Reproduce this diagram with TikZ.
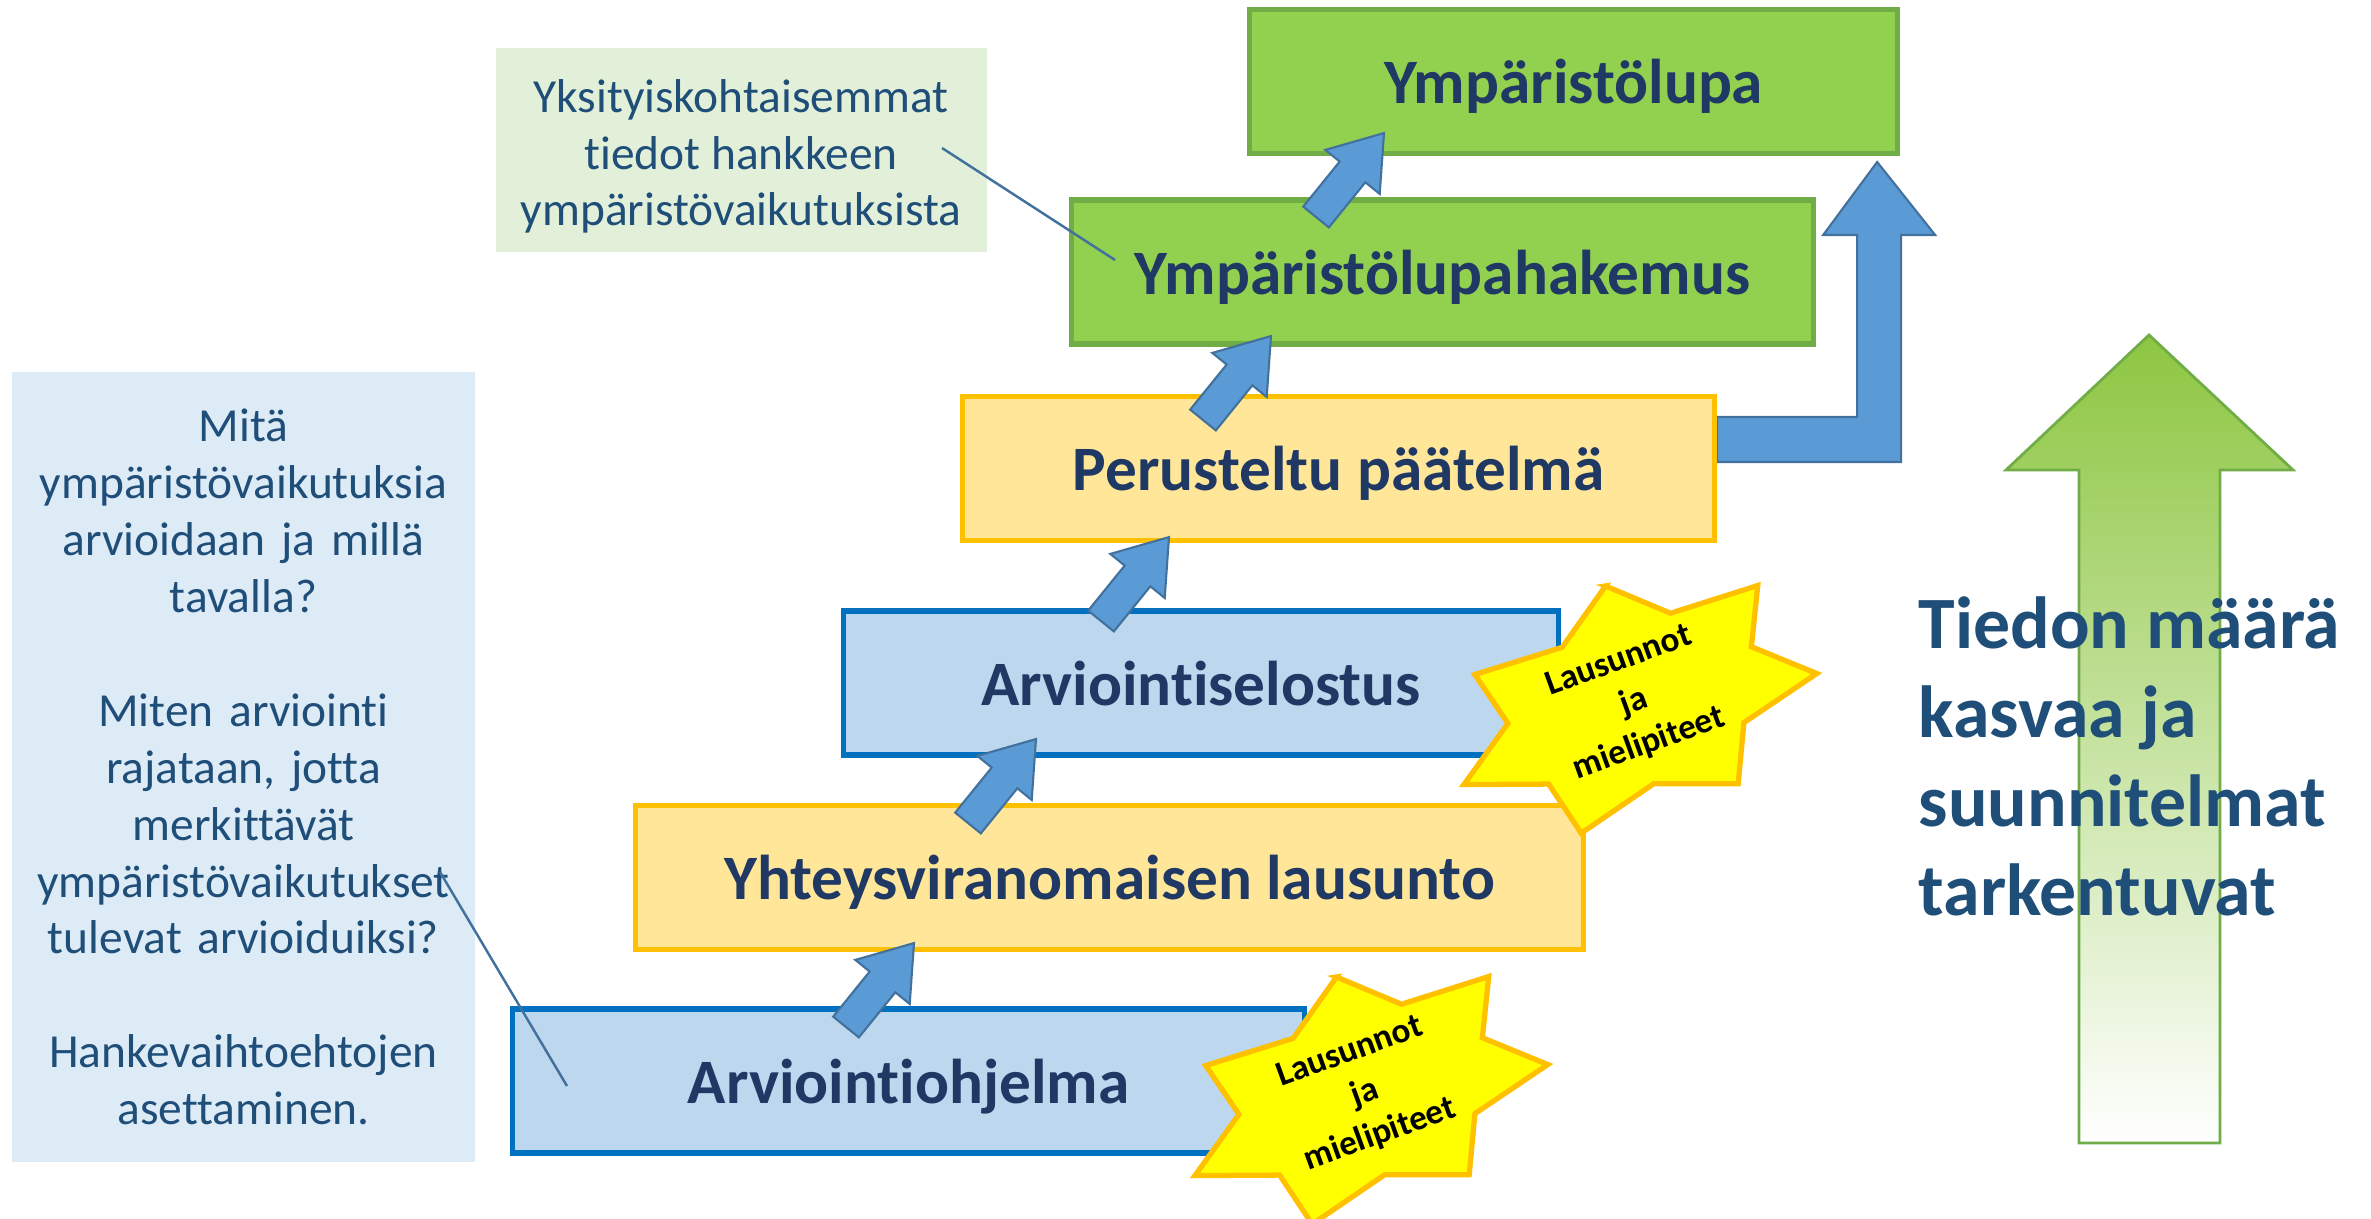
\documentclass[tikz,border=0pt]{standalone}
\usepackage{fontspec}
\setmainfont{Carlito}[Ligatures=NoCommon]
\usetikzlibrary{backgrounds}

\definecolor{navy}{HTML}{1F3864}
\definecolor{darkblue}{HTML}{1F4E79}
\definecolor{lupagreen}{HTML}{92D050}
\definecolor{lupagreenline}{HTML}{70AD47}
\definecolor{paperyellow}{HTML}{FFE699}
\definecolor{paperyellowline}{HTML}{FFC000}
\definecolor{reportblue}{HTML}{BDD7EE}
\definecolor{reportblueline}{HTML}{0070C0}
\definecolor{arrowblue}{HTML}{5B9BD5}
\definecolor{arrowblueline}{HTML}{41719C}
\definecolor{questionblue}{HTML}{DDEBF7}
\definecolor{notegreen}{HTML}{E2F0D9}
\definecolor{starfill}{HTML}{FFFF00}
\definecolor{bigarrowgreen}{HTML}{8DC641}

\tikzset{
    stepup/.pic={
        \draw[arrowbody] (0,-0.165) -- (0.58,-0.165) -- (0.58,-0.35) -- (1.08,0)
            -- (0.58,0.35) -- (0.58,0.165) -- (0,0.165) -- cycle;
    }
}

\begin{document}
\begin{tikzpicture}[
        phase/.style={draw, line width=1.5pt, minimum height=1.44cm, text=navy,
            text height=15pt, text depth=2.4pt,
            font=\fontsize{18}{22}\selectfont\bfseries},
        greenphase/.style={phase, fill=lupagreen, draw=lupagreenline},
        yellowphase/.style={phase, fill=paperyellow, draw=paperyellowline},
        bluephase/.style={phase, fill=reportblue, draw=reportblueline},
        infobox/.style={text=darkblue, align=center, font=\fontsize{13.5}{16.2}\selectfont},
        arrowbody/.style={fill=arrowblue, draw=arrowblueline, line width=0.6pt},
        callout/.style={draw=arrowblueline, line width=0.7pt},
        lausuntostar/.style={fill=starfill, draw=paperyellowline, line width=1.5pt},
        startext/.style={rotate=20, align=center, font=\fontsize{10}{12.5}\selectfont\bfseries}
    ]
    \useasboundingbox (0,0) rectangle (23.71,-12.18);

    % portaat
    \node[greenphase, minimum width=6.48cm]  (lupa)     at (15.735,-0.815) {Ympäristölupa};
    \node[greenphase, minimum width=7.42cm]  (hakemus)  at (14.425,-2.72)  {Ympäristölupahakemus};
    \node[yellowphase, minimum width=7.52cm] (paatelma) at (13.385,-4.685) {Perusteltu päätelmä};
    \node[bluephase, minimum width=7.15cm]   (selostus) at (12.01,-6.83)   {Arviointiselostus};
    \node[yellowphase, minimum width=9.48cm] (lausunto) at (11.095,-8.775) {Yhteysviranomaisen lausunto};
    \node[bluephase, minimum width=7.92cm]   (ohjelma)  at (9.085,-10.81)  {Arviointiohjelma};

    % paatelmasta suoraan lupaan
    \begin{scope}[on background layer]
        \draw[arrowbody] ([yshift=0.515cm]paatelma.east) -- ++(1.40,0) -- ++(0,1.82) -- ++(-0.34,0)
            -- ++(0.54,0.73) -- ++(0.58,-0.73) -- ++(-0.34,0) -- ++(0,-2.27) -- ++(-1.84,0) -- cycle;
    \end{scope}

    \foreach \x/\y in {8.46/-10.27, 9.68/-8.23, 11.01/-6.21, 12.03/-4.20, 13.16/-2.17}
        \pic[rotate=51] at (\x,\y) {stepup};

    % tekstilaatikot
    \node[infobox, fill=questionblue, minimum width=4.63cm, minimum height=7.9cm, text width=4.4cm]
        (kysymykset) at (2.435,-7.67)
        {Mitä\\ympäristövaikutuksia\\arvioidaan ja millä\\tavalla?\\[16.2pt]Miten arviointi\\rajataan, jotta\\merkittävät\\ympäristövaikutukset\\tulevat arvioiduiksi?\\[16.2pt]Hankevaihtoehtojen\\asettaminen.};
    \node[infobox, fill=notegreen, minimum width=4.91cm, minimum height=2.04cm]
        (tiedot) at (7.41,-1.5)
        {\rule{0pt}{13pt}Yksityiskohtaisemmat\\tiedot hankkeen\\ympäristövaikutuksista};

    \coordinate (k1) at (4.40,-8.72);
    \coordinate (k2) at (5.67,-10.86);
    \coordinate (t1) at (9.42,-1.48);
    \coordinate (t2) at (11.15,-2.60);
    \draw[callout] (k1) -- (k2);
    \draw[callout] (t1) -- (t2);

    % tiedon maara kasvaa
    \path[draw=lupagreenline, line width=0.8pt, top color=bigarrowgreen, bottom color=white]
        (20.79,-11.43) -- (20.79,-4.70) -- (20.06,-4.70) -- (21.49,-3.35) -- (22.93,-4.70)
        -- (22.20,-4.70) -- (22.20,-11.43) -- cycle;
    \node[anchor=north west, inner sep=0, align=left, text=darkblue,
        font=\fontsize{21}{25.3}\selectfont\bfseries] (maara) at (19.18,-5.96)
        {Tiedon määrä\\kasvaa ja\\suunnitelmat\\tarkentuvat};

    % lausunnot ja mielipiteet
    \coordinate (star1) at (16.34,-7.03);
    \coordinate (star2) at (13.65,-10.94);
    \foreach \s in {star1, star2} {
        \begin{scope}[shift={(\s)}, rotate=20, xscale=1.9, yscale=1.2]
            \draw[lausuntostar] (86:1) \foreach \k in {0,...,6} {
                -- ({86-25.714-\k*51.429}:0.69) -- ({86-(\k+1)*51.429}:1) } -- cycle;
        \end{scope}
        \node[startext] (\s text) at (\s) {Lausunnot\\ja\\mielipiteet};
    }
\end{tikzpicture}
\end{document}
